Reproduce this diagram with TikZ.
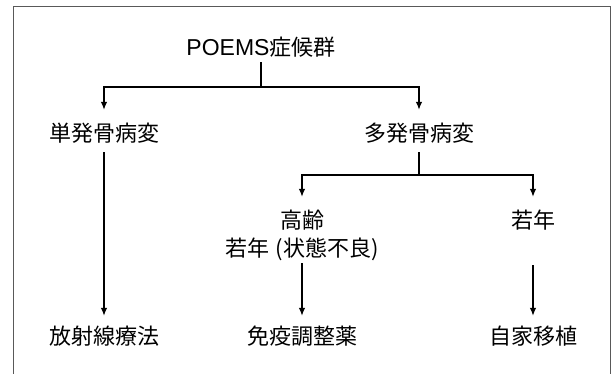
\documentclass[tikz,border=0pt]{standalone}
\usepackage{fontspec}
\setmainfont{Noto Sans CJK JP}
\newfontfamily\latinsans{Liberation Sans}
\usetikzlibrary{arrows.meta}
\begin{document}
\begin{tikzpicture}[x=1pt,y=-1pt,
  lbl/.style={inner sep=0pt, text height=19pt, text depth=3pt, font=\fontsize{22}{26}\selectfont},
  ln/.style={line width=1.2pt, black},
  arr/.style={ln, -{Latex[length=8pt,width=6.5pt]}},
  frame/.style={line width=0.8pt, black!65}]
\useasboundingbox (0,0) rectangle (615,373);
\draw[frame] (13,380) -- (13,6.5) -- (610.5,6.5) -- (610.5,380);
\node[lbl] (title) at (261,47) {{\latinsans\fontsize{23}{26}\selectfont POEMS}症候群};
\node[lbl] (tan) at (104,133) {単発骨病変};
\node[lbl] (ta) at (419,133) {多発骨病変};
\node[lbl] (kor1) at (302,220) {高齢};
\node[lbl] (kor2) at (302,248) {若年\hspace{0.3em}(状態不良)};
\node[lbl] (jak) at (533,220) {若年};
\node[lbl] (hou) at (104,336) {放射線療法};
\node[lbl] (men) at (302,336) {免疫調整薬};
\node[lbl] (jika) at (533,336) {自家移植};
\coordinate (j1) at (261,87);
\coordinate (j2) at (419,175);
\draw[arr] ([yshift=-4pt]title.south) -- (j1) -| ([yshift=12pt]tan.north);
\draw[arr] (j1) -| ([yshift=12pt]ta.north);
\draw[arr] ([yshift=-8pt]tan.south) -- ([yshift=9pt]hou.north);
\draw[arr] ([yshift=-8pt]ta.south) -- (j2) -| ([yshift=12pt]kor1.north);
\draw[arr] (j2) -| ([yshift=12pt]jak.north);
\draw[arr] ([yshift=-4pt]kor2.south) -- ([yshift=9pt]men.north);
\draw[arr] ([yshift=-34pt]jak.south) -- ([yshift=9pt]jika.north);
\end{tikzpicture}
\end{document}
